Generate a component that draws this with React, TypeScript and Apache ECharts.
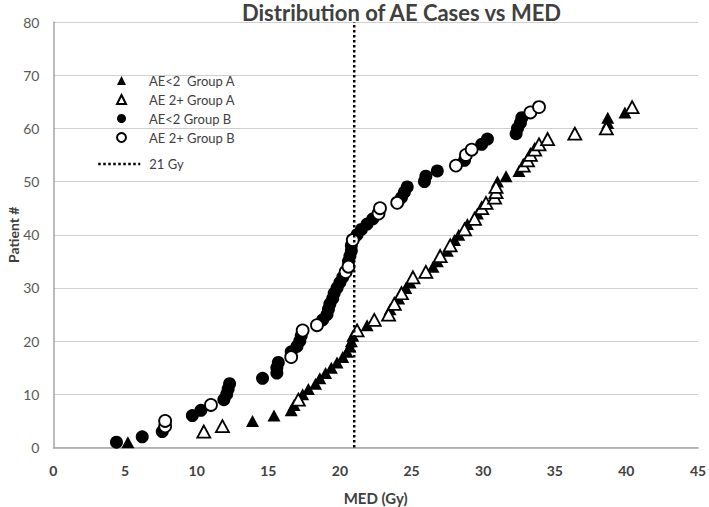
import React, { useEffect, useRef } from "react";
import * as echarts from "echarts";

// AE<2 Group A (filled triangles)
const aLowPatient = [1, 5, 6, 7, 8, 10, 11, 12, 13, 14, 15, 16, 17, 18, 19, 20, 21, 23, 26, 28, 30, 31, 34, 35, 37, 39, 40, 42, 44, 50, 51, 52, 61, 62, 63];
const aLowMed = [5.2, 13.9, 15.4, 16.6, 16.8, 17.4, 17.8, 18.3, 18.6, 19.0, 19.4, 19.8, 20.2, 20.5, 20.7, 20.8, 20.9, 21.9, 23.5, 24.1, 24.6, 24.9, 26.5, 26.8, 27.5, 28.0, 28.3, 28.9, 29.6, 31.0, 31.6, 32.5, 38.7, 38.7, 39.9];

// AE 2+ Group A (open triangles)
const aHighPatient = [3, 4, 9, 22, 24, 25, 27, 29, 32, 33, 36, 38, 41, 43, 45, 46, 47, 48, 49, 53, 54, 55, 56, 57, 58, 59, 60, 64];
const aHighMed = [10.5, 11.8, 17.1, 21.2, 22.4, 23.4, 23.8, 24.3, 25.1, 26.0, 27.0, 27.7, 28.7, 29.4, 29.9, 30.2, 30.8, 30.9, 30.9, 32.8, 33.1, 33.3, 33.6, 33.9, 34.5, 36.4, 38.6, 40.4];

// AE<2 Group B (filled circles)
const bLowPatient = [1, 2, 3, 6, 7, 9, 10, 11, 12, 13, 14, 15, 16, 18, 19, 20, 21, 24, 25, 26, 27, 28, 29, 30, 31, 32, 35, 36, 37, 38, 40, 41, 42, 43, 47, 48, 49, 50, 51, 52, 54, 57, 58, 59, 60, 61, 62];
const bLowMed = [4.4, 6.2, 7.6, 9.7, 10.3, 11.9, 12.1, 12.2, 12.3, 14.6, 15.6, 15.6, 15.7, 16.6, 17.0, 17.2, 17.3, 18.8, 19.1, 19.2, 19.3, 19.5, 19.6, 19.8, 20.0, 20.2, 20.6, 20.7, 20.8, 20.8, 21.2, 21.5, 21.9, 22.3, 24.3, 24.5, 24.7, 25.9, 26.0, 26.8, 28.7, 29.9, 30.3, 32.3, 32.4, 32.6, 32.7];

// AE 2+ Group B (open circles)
const bHighPatient = [4, 5, 8, 17, 22, 23, 33, 34, 39, 44, 45, 46, 53, 55, 56, 63, 64];
const bHighMed = [7.8, 7.8, 11.0, 16.6, 17.4, 18.4, 20.4, 20.6, 20.9, 22.7, 22.8, 24.0, 28.1, 28.8, 29.2, 33.3, 33.9];

// Threshold line
const thresholdMed = 21;
const thresholdRange = [0, 80];

const seriesNames = ["AE<2  Group A", "AE 2+ Group A", "AE<2 Group B", "AE 2+ Group B"];
const lineName = "21 Gy";

const zip = (xs: number[], ys: number[]) => xs.map((x, i) => [x, ys[i]]);

const FONT = "Lato";

export default function App() {
  const ref = useRef<HTMLDivElement>(null);
  useEffect(() => {
    if (!ref.current) return;
    const chart = echarts.init(ref.current, undefined, { renderer: "svg" });
    const openStyle = { color: "#ffffff", borderColor: "#000000", borderWidth: 1.8, opacity: 1 };
    const fillStyle = { color: "#000000", opacity: 1 };
    chart.setOption({
      animation: false,
      backgroundColor: "#ffffff",
      title: {
        text: "Distribution of AE Cases vs MED",
        left: 401.5,
        top: 1,
        padding: 0,
        textAlign: "center",
        textStyle: { fontFamily: FONT, fontWeight: "bold", fontSize: 22, color: "#404040" },
      },
      legend: [
        {
          data: seriesNames,
          orient: "vertical",
          left: 116,
          top: 74,
          padding: 0,
          itemWidth: 9,
          itemHeight: 9,
          itemGap: 6,
          textStyle: { fontFamily: FONT, fontSize: 13, color: "#404040", padding: [0, 0, 0, 18] },
        },
        {
          data: [lineName],
          orient: "vertical",
          left: 97,
          top: 157.5,
          padding: 0,
          itemWidth: 42,
          itemHeight: 9,
          itemStyle: { color: "rgba(0,0,0,0)", borderColor: "rgba(0,0,0,0)", borderWidth: 0 },
          lineStyle: { width: 2.5, type: [2.5, 2.5], color: "#000000" },
          textStyle: { fontFamily: FONT, fontSize: 13, color: "#404040", padding: [0, 0, 0, 4] },
        },
      ],
      grid: { left: 53.4, right: 11, top: 22, bottom: 59.5, containLabel: false, outerBoundsMode: "none" },
      xAxis: {
        type: "value",
        min: 0,
        max: 45,
        interval: 5,
        name: "MED (Gy)",
        nameLocation: "middle",
        nameGap: 43,
        nameMoveOverlap: false,
        nameTextStyle: { fontFamily: FONT, fontWeight: "bold", fontSize: 15, color: "#404040" },
        axisLine: { show: true, lineStyle: { color: "#a6a6a6", width: 1.5 } },
        axisTick: { show: false },
        splitLine: { show: false },
        axisLabel: { margin: 16, fontFamily: FONT, fontWeight: "bold", fontSize: 14, color: "#404040" },
      },
      yAxis: {
        type: "value",
        min: 0,
        max: 80,
        interval: 10,
        name: "Patient #",
        nameLocation: "middle",
        nameGap: 33,
        nameMoveOverlap: false,
        nameTextStyle: { fontFamily: FONT, fontWeight: "bold", fontSize: 14, color: "#404040" },
        axisLine: { show: true, lineStyle: { color: "#a6a6a6", width: 1.5 } },
        axisTick: { show: false },
        splitLine: { show: true, lineStyle: { color: "#d0d0d0", width: 1.2 } },
        axisLabel: { margin: 14, fontFamily: FONT, fontSize: 14, color: "#595959" },
      },
      series: [
        {
          name: seriesNames[0],
          type: "scatter",
          symbol: "triangle",
          symbolSize: [13, 12],
          itemStyle: fillStyle,
          data: zip(aLowMed, aLowPatient),
        },
        {
          name: seriesNames[1],
          type: "scatter",
          symbol: "triangle",
          symbolSize: [13, 12],
          itemStyle: openStyle,
          data: zip(aHighMed, aHighPatient),
        },
        {
          name: seriesNames[2],
          type: "scatter",
          symbol: "circle",
          symbolSize: 13,
          itemStyle: fillStyle,
          data: zip(bLowMed, bLowPatient),
        },
        {
          name: seriesNames[3],
          type: "scatter",
          symbol: "circle",
          symbolSize: 12,
          itemStyle: openStyle,
          data: zip(bHighMed, bHighPatient),
        },
        {
          name: lineName,
          type: "line",
          symbol: "none",
          lineStyle: { color: "#000000", width: 2.5, type: [2.5, 2.5] },
          itemStyle: { color: "#000000" },
          data: thresholdRange.map((y) => [thresholdMed, y]),
          z: 5,
        },
      ],
    });
    return () => chart.dispose();
  }, []);
  return (
    <div
      ref={ref}
      style={{ position: "fixed", left: 0, top: 0, width: 709, height: 507, background: "#fff" }}
    />
  );
}
